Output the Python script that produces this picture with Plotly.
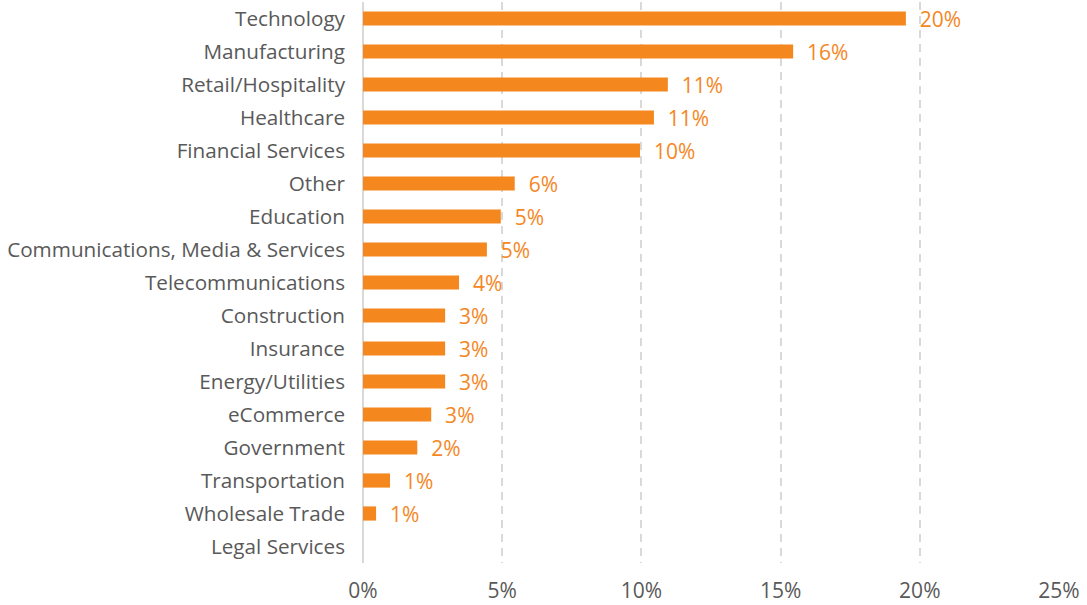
import plotly.graph_objects as go

categories = ["Technology", "Manufacturing", "Retail/Hospitality", "Healthcare",
              "Financial Services", "Other", "Education",
              "Communications, Media & Services", "Telecommunications",
              "Construction", "Insurance", "Energy/Utilities", "eCommerce",
              "Government", "Transportation", "Wholesale Trade", "Legal Services"]
values = [19.5, 15.45, 10.95, 10.45, 9.95, 5.45, 4.95, 4.45, 3.45,
          2.95, 2.95, 2.95, 2.45, 1.95, 0.97, 0.47, 0.0]
labels = ["20%", "16%", "11%", "11%", "10%", "6%", "5%", "5%", "4%",
          "3%", "3%", "3%", "3%", "2%", "1%", "1%", ""]
tick_vals = [0, 5, 10, 15, 20, 25]
tick_text = ["0%", "5%", "10%", "15%", "20%", "25%"]

orange = "#F5871F"
gray = "#595959"

fig = go.Figure(go.Bar(
    x=values, y=categories, orientation="h",
    marker=dict(color=orange, line=dict(width=0)),
    width=0.43,
    text=["  " + t if t else "" for t in labels],
    textposition="outside",
    constraintext="none",
    textfont=dict(color=orange, size=21, family="Open Sans"),
    cliponaxis=False,
    hoverinfo="skip",
))

fig.update_layout(
    width=1087, height=605,
    margin=dict(l=363, r=28, t=2, b=42, autoexpand=False),
    plot_bgcolor="white", paper_bgcolor="white",
    font=dict(family="Open Sans", size=21, color=gray),
    showlegend=False,
    uniformtext=dict(mode=False),
)
fig.update_xaxes(
    range=[0, 25], tickvals=tick_vals, ticktext=tick_text,
    showgrid=True, gridcolor="#D9D9D9", griddash="8px,6px", gridwidth=1.5,
    zeroline=True, zerolinecolor="#D9D9D9", zerolinewidth=2,
    showline=False, ticks="", tickfont=dict(size=21, color=gray),
    ticklabelstandoff=13, automargin=False,
)
fig.update_yaxes(
    categoryorder="array", categoryarray=categories[::-1],
    showgrid=False, showline=False, ticks="",
    tickfont=dict(size=20.7, color=gray), ticklabelstandoff=17,
    automargin=False,
)

fig.write_html("out.html",
               config={"displayModeBar": False},
               post_script="document.body.style.margin='0';document.body.style.overflow='hidden';")
